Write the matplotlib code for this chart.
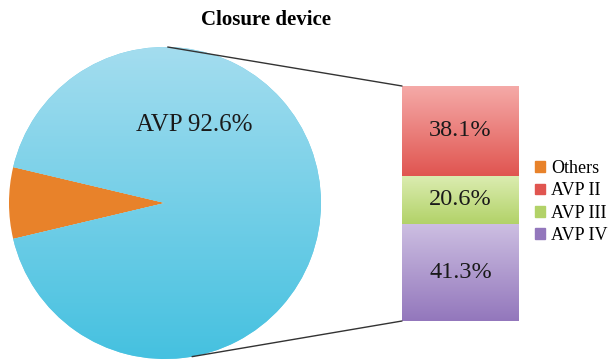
import numpy as np
import matplotlib
matplotlib.use("Agg")
import matplotlib.pyplot as plt
from matplotlib.patches import ConnectionPatch, Patch
from matplotlib.colors import LinearSegmentedColormap

plt.rcParams['font.family'] = ['Liberation Serif', 'DejaVu Serif']

# data
pie_labels = ["Others", "AVP"]
pie_values = [7.4, 92.6]
bar_labels = ["AVP II", "AVP III", "AVP IV"]
bar_values = [38.1, 20.6, 41.3]   # top to bottom

pie_colors = ["#e8822a", "#6dcbe6"]
bar_colors = {"AVP II": ("#f5aaa8", "#e05550"),
              "AVP III": ("#dcedb2", "#b2d268"),
              "AVP IV": ("#cdbfe2", "#9377bc")}

W, H = 608, 362
fig = plt.figure(figsize=(W / 100, H / 100), dpi=100)

def px_axes(x0, y0, x1, y1):
    return fig.add_axes([x0 / W, 1 - y1 / H, (x1 - x0) / W, (y1 - y0) / H])

grad = np.linspace(0, 1, 256).reshape(-1, 1)

# pie
cx, cy, r = 165, 203, 156
ax_pie = px_axes(cx - r, cy - r, cx + r, cy + r)
half = pie_values[0] / 100 * 360 / 2
wedges, _ = ax_pie.pie(pie_values, colors=pie_colors, startangle=180 - half,
                       radius=1, wedgeprops=dict(linewidth=0))
cm_blue = LinearSegmentedColormap.from_list("b", ["#a4ddef", "#45c1e0"])
im = ax_pie.imshow(grad, cmap=cm_blue, extent=[-1, 1, -1, 1], aspect="auto", zorder=2)
im.set_clip_path(wedges[1])
ax_pie.set_xlim(-1, 1)
ax_pie.set_ylim(-1, 1)
ax_pie.axis("off")
ax_pie.text(0.19, 0.5, "AVP 92.6%", ha="center", va="center", fontsize=18,
            color="#1a1a1a", zorder=3)

# stacked bar
ax_bar = px_axes(402, 86, 519, 321)
bottom = 0
for lab, val in zip(bar_labels[::-1], bar_values[::-1]):
    b = ax_bar.bar(0, val, bottom=bottom, width=1, color=bar_colors[lab][1], linewidth=0)[0]
    cm = LinearSegmentedColormap.from_list(lab, [bar_colors[lab][0], bar_colors[lab][1]])
    g = ax_bar.imshow(grad, cmap=cm, extent=[-0.5, 0.5, bottom, bottom + val],
                      aspect="auto", zorder=2)
    g.set_clip_path(b)
    ax_bar.text(0, bottom + val / 2, f"{val}%", ha="center", va="center",
                fontsize=17.5, color="#1a1a1a", zorder=3)
    bottom += val
ax_bar.set_xlim(-0.5, 0.5)
ax_bar.set_ylim(0, 100)
ax_bar.axis("off")

# connector lines
for ang, yb in [(89, 100), (-80, 0)]:
    p = (np.cos(np.radians(ang)), np.sin(np.radians(ang)))
    con = ConnectionPatch(xyA=p, coordsA=ax_pie.transData,
                          xyB=(-0.5, yb), coordsB=ax_bar.transData,
                          color="#333333", linewidth=1.0)
    fig.add_artist(con)

# legend
handles = [Patch(color=pie_colors[0])] + [Patch(color=bar_colors[l][1]) for l in bar_labels]
fig.legend(handles, ["Others"] + bar_labels, loc="upper left",
           bbox_to_anchor=(526 / W, 1 - 151 / H), frameon=False, fontsize=13,
           handlelength=0.55, handleheight=0.55, handletextpad=0.35, labelspacing=0.3,
           borderpad=0)

fig.text(266 / W, 1 - 20 / H, "Closure device", ha="center", va="center",
         fontsize=15, fontweight="bold")

fig.savefig("out.png", dpi=100)
